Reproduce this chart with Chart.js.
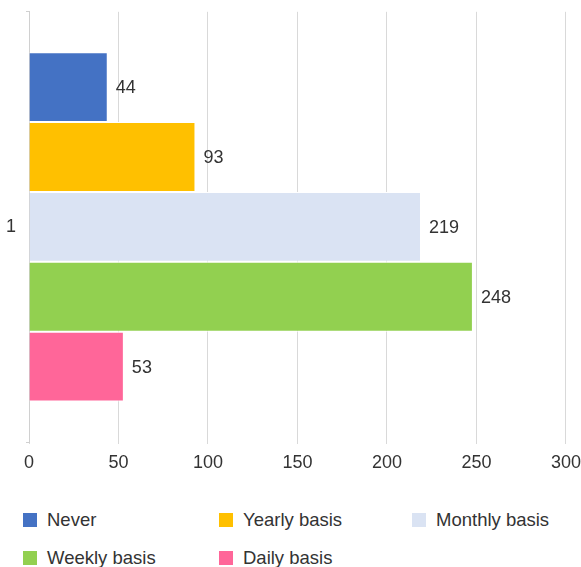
<!DOCTYPE html>
<html>
<head>
<meta charset="utf-8">
<script src="https://cdn.jsdelivr.net/npm/chart.js@4"></script>
<style>
  body { margin: 0; background: #fff; font-family: "Liberation Sans", Arial, sans-serif; overflow: hidden; }
  #wrap { position: relative; width: 581px; height: 567px; overflow: hidden; }
  #chartBox { position: absolute; left: 0; top: -9px; width: 589px; height: 489px; }
  #legend {
    position: absolute; left: 23px; top: 513px;
    display: grid; grid-template-columns: 196px 193px 170px; row-gap: 24px;
    font-size: 18.5px; color: #333;
  }
  .item { display: flex; align-items: center; height: 14px; white-space: nowrap; }
  .swatch { width: 14px; height: 14px; margin-right: 10px; flex: none; }
</style>
</head>
<body>
<div id="wrap">
  <div id="chartBox"><canvas id="usageChart"></canvas></div>
  <div id="legend"></div>
</div>
<script>
const categories = ["1"];
const seriesNames = ["Never", "Yearly basis", "Monthly basis", "Weekly basis", "Daily basis"];
const seriesValues = [44, 93, 219, 248, 53];
const seriesColors = ["#4472C4", "#FFC000", "#DAE3F3", "#92D050", "#FF6699"];
const xMax = 300;
const xStep = 50;

const textColor = "#333333";
const fontFamily = '"Liberation Sans", Arial, sans-serif';

// value printed just past the end of each bar
const barValueLabels = {
    id: "barValueLabels",
    afterDatasetsDraw(chart) {
        const ctx = chart.ctx;
        ctx.save();
        ctx.font = "18px " + fontFamily;
        ctx.fillStyle = textColor;
        ctx.textBaseline = "middle";
        ctx.textAlign = "left";
        chart.data.datasets.forEach(function (ds, i) {
            chart.getDatasetMeta(i).data.forEach(function (bar, j) {
                ctx.fillText(String(ds.data[j]), bar.x + 8, bar.y + 1);
            });
        });
        ctx.restore();
    }
};

const datasets = seriesNames.map(function (name, i) {
    return {
        label: name,
        data: [seriesValues[i]],
        backgroundColor: seriesColors[i],
        borderColor: "#ffffff",
        borderWidth: 1,
        categoryPercentage: 0.812,
        barPercentage: 1
    };
});

new Chart(document.getElementById("usageChart").getContext("2d"), {
    type: "bar",
    data: { labels: categories, datasets: datasets },
    plugins: [barValueLabels],
    options: {
        indexAxis: "y",
        responsive: true,
        maintainAspectRatio: false,
        animation: false,
        plugins: {
            legend: { display: false },
            tooltip: { enabled: false }
        },
        scales: {
            x: {
                min: 0,
                max: xMax,
                ticks: { stepSize: xStep, color: textColor, font: { size: 18, family: fontFamily }, padding: 8 },
                grid: { color: "#d9d9d9", tickLength: 2, tickColor: "#d9d9d9" },
                border: { display: false },
                afterFit(scale) { scale.height = 38; }
            },
            y: {
                ticks: { color: textColor, font: { size: 18, family: fontFamily }, padding: 10 },
                grid: { drawOnChartArea: false, tickLength: 3, color: "#d0d0d0" },
                border: { color: "#d0d0d0" },
                afterFit(scale) { scale.width = 29; }
            }
        }
    }
});

// legend laid out in three fixed columns
const legendEl = document.getElementById("legend");
seriesNames.forEach(function (name, i) {
    const item = document.createElement("div");
    item.className = "item";
    item.innerHTML = '<span class="swatch" style="background:' + seriesColors[i] + '"></span><span>' + name + "</span>";
    legendEl.appendChild(item);
});
</script>
</body>
</html>
